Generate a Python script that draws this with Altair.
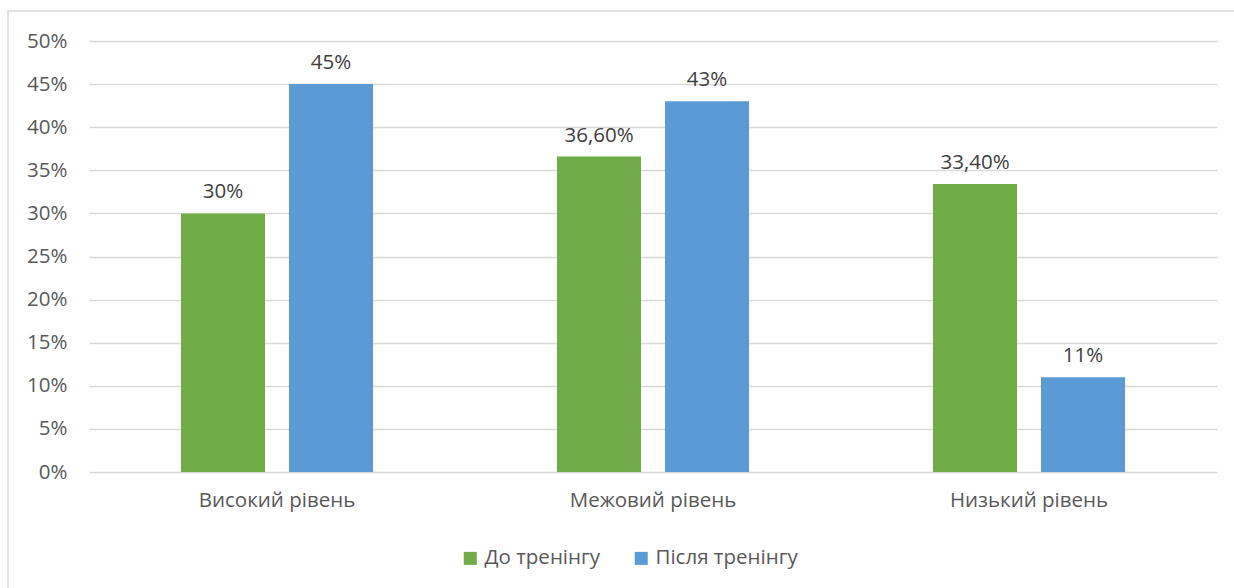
import altair as alt
import pandas as pd

categories = ["Високий рівень", "Межовий рівень", "Низький рівень"]
series = ["До тренінгу", "Після тренінгу"]
before = [0.30, 0.366, 0.334]
after = [0.45, 0.43, 0.11]
before_labels = ["30%", "36,60%", "33,40%"]
after_labels = ["45%", "43%", "11%"]
colors = ["#70AD47", "#5B9BD5"]
y_ticks = [0, 0.05, 0.10, 0.15, 0.20, 0.25, 0.30, 0.35, 0.40, 0.45, 0.50]

rows = []
for i, c in enumerate(categories):
    rows.append({"cat": c, "series": series[0], "value": before[i], "label": before_labels[i]})
    rows.append({"cat": c, "series": series[1], "value": after[i], "label": after_labels[i]})
df = pd.DataFrame(rows)

FONT = "Open Sans"
FS = 20.5
W, H = 1128, 431

x = alt.X("cat:N", sort=categories, title=None,
          scale=alt.Scale(paddingInner=0, paddingOuter=0),
          axis=alt.Axis(labelAngle=0, labelFontSize=FS, labelColor="#595959", labelFont=FONT,
                        domain=False, ticks=False, grid=False, labelPadding=18))
xo = alt.XOffset("series:N", sort=series,
                 scale=alt.Scale(paddingInner=0.222, paddingOuter=0.852))
y = alt.Y("value:Q", title=None,
          scale=alt.Scale(domain=[0, 0.5], nice=False),
          axis=alt.Axis(values=y_ticks, format=".0%", labelFontSize=FS, labelColor="#595959",
                        labelFont=FONT, domain=False, ticks=False, labelPadding=22,
                        gridColor="#d9d9d9", gridWidth=1.3))

bars = alt.Chart(df).mark_bar().encode(
    x=x, xOffset=xo, y=y,
    color=alt.Color("series:N", sort=series, title=None,
                    scale=alt.Scale(domain=series, range=colors),
                    legend=alt.Legend(orient="none", direction="horizontal",
                                      legendX=371, legendY=507,
                                      symbolType="square", symbolSize=169,
                                      symbolStrokeWidth=0, labelFontSize=FS,
                                      labelFont=FONT, labelColor="#595959",
                                      columnPadding=30, labelOffset=4)),
)

labels = alt.Chart(df).mark_text(baseline="bottom", dy=-11, fontSize=FS, font=FONT,
                                 color="#404040").encode(
    x=alt.X("cat:N", sort=categories), xOffset=alt.XOffset("series:N", sort=series),
    y="value:Q", text="label:N",
)

border = alt.Chart(pd.DataFrame({"a": [0]})).mark_rect(
    fill=None, stroke="#d9d9d9", strokeWidth=1.5
).encode(x=alt.value(-81), x2=alt.value(1200), y=alt.value(-30), y2=alt.value(600))

chart = alt.layer(border, bars, labels).properties(
    width=W, height=H,
    autosize=alt.AutoSizeParams(type="none"),
    padding={"left": 89, "top": 41, "right": 17, "bottom": 116},
).configure(font=FONT).configure_view(stroke="transparent", strokeWidth=0)

chart.save("out.html", embed_options={"renderer": "svg", "actions": False})
